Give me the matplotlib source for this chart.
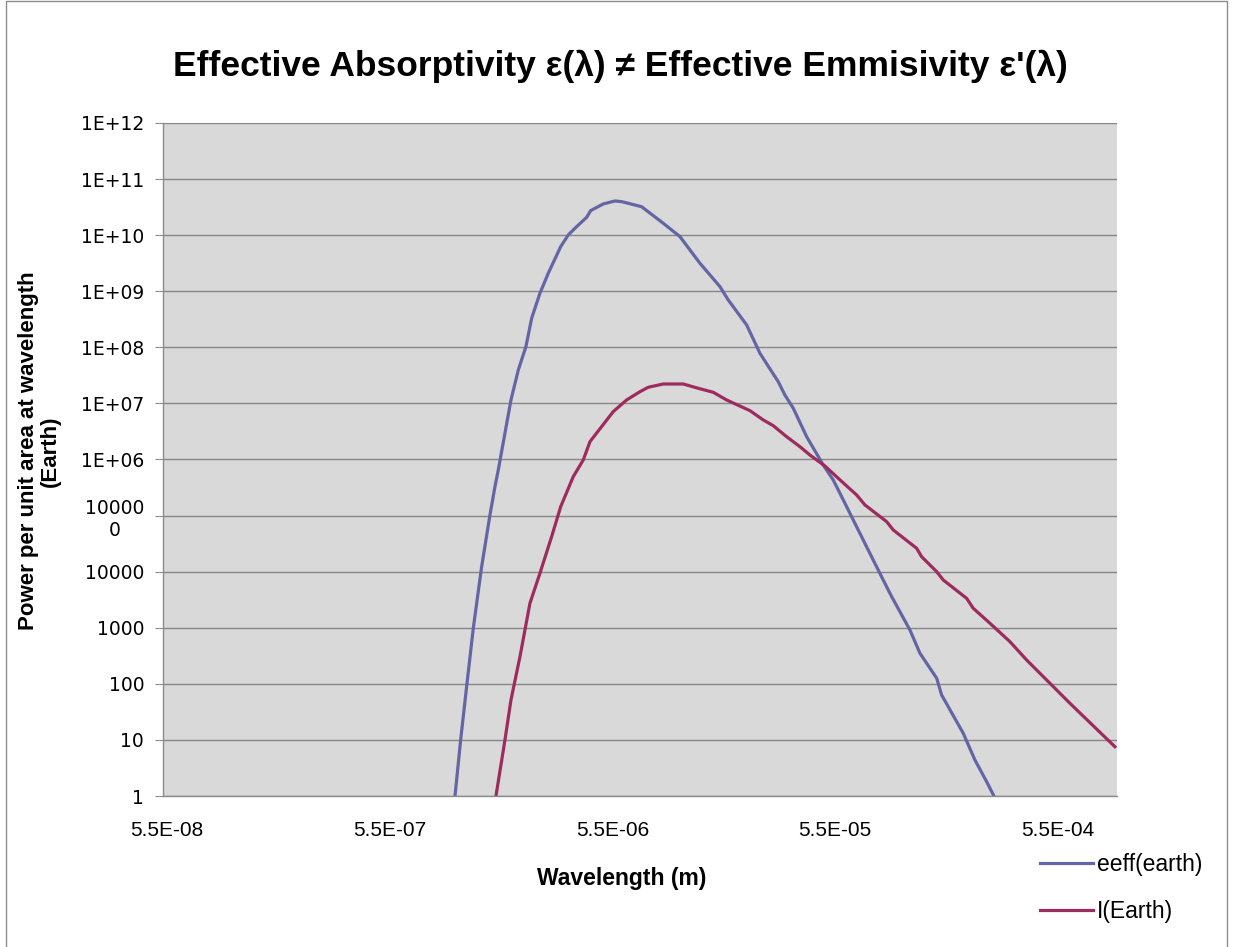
import matplotlib
matplotlib.use("Agg")
import matplotlib.pyplot as plt
from matplotlib.patches import Rectangle
from matplotlib.ticker import FixedLocator, FixedFormatter, NullLocator

# data
wl_eeff = [1.081e-6, 1.146e-6, 1.219e-6, 1.306e-6, 1.424e-6, 1.552e-6, 1.634e-6,
           1.691e-6, 1.928e-6, 2.080e-6, 2.251e-6, 2.388e-6, 2.601e-6, 2.835e-6,
           3.224e-6, 3.486e-6, 3.803e-6, 4.217e-6, 4.395e-6, 5.005e-6, 5.65e-6,
           6.06e-6, 7.44e-6, 9.31e-6, 1.107e-5, 1.361e-5, 1.673e-5, 1.823e-5,
           2.206e-5, 2.531e-5, 3.057e-5, 3.276e-5, 3.571e-5, 4.101e-5, 4.868e-5,
           5.398e-5, 5.786e-5, 6.64e-5, 7.36e-5, 9.05e-5, 9.88e-5, 1.193e-4,
           1.323e-4, 1.573e-4, 1.656e-4, 2.071e-4, 2.336e-4, 2.637e-4, 2.843e-4]
eeff_earth = [1.0, 10, 89, 978, 1.23e4, 1.03e5, 3.28e5,
              6.5e5, 1.15e7, 3.95e7, 1.03e8, 3.3e8, 9.2e8, 2.09e9,
              6.24e9, 1.01e10, 1.42e10, 2.08e10, 2.74e10, 3.6e10, 4.07e10,
              3.96e10, 3.22e10, 1.63e10, 9.4e9, 3.15e9, 1.21e9, 7.0e8,
              2.5e8, 7.8e7, 2.44e7, 1.41e7, 8.2e6, 2.55e6, 7.98e5,
              4.31e5, 2.5e5, 8.35e4, 3.67e4, 7110, 3580, 912,
              351, 126, 63.2, 13.1, 4.39, 1.80, 1.0]

wl_i = [1.651e-6, 1.812e-6, 1.928e-6, 2.116e-6, 2.346e-6, 2.601e-6, 2.936e-6,
        3.224e-6, 3.671e-6, 4.071e-6, 4.364e-6, 5.55e-6, 6.37e-6, 7.32e-6,
        7.97e-6, 9.31e-6, 1.145e-5, 1.337e-5, 1.561e-5, 1.794e-5, 2.282e-5,
        2.618e-5, 2.903e-5, 3.334e-5, 3.827e-5, 4.244e-5, 4.954e-5, 5.685e-5,
        6.876e-5, 7.49e-5, 9.38e-5, 1.004e-4, 1.279e-4, 1.346e-4, 1.573e-4,
        1.683e-4, 2.144e-4, 2.296e-4, 2.729e-4, 3.356e-4, 3.988e-4, 6.24e-4,
        9.93e-4]
i_earth = [1.0, 10, 51.5, 305, 2730, 9350, 4.21e4,
           1.44e5, 4.94e5, 9.8e5, 2.08e6, 7.13e6, 1.15e7, 1.62e7,
           1.94e7, 2.22e7, 2.22e7, 1.86e7, 1.58e7, 1.15e7, 7.43e6,
           5.07e6, 4.01e6, 2.55e6, 1.69e6, 1.20e6, 7.66e5, 4.62e5,
           2.33e5, 1.55e5, 7.78e4, 5.54e4, 2.61e4, 1.85e4, 1.0e4,
           7110, 3350, 2223, 1201, 564, 266, 45,
           7.57]

x_ticks = [5.5e-8, 5.5e-7, 5.5e-6, 5.5e-5, 5.5e-4]
x_labels = ["5.5E-08", "5.5E-07", "5.5E-06", "5.5E-05", "5.5E-04"]
y_ticks = [1, 10, 100, 1e3, 1e4, 1e5, 1e6, 1e7, 1e8, 1e9, 1e10, 1e11, 1e12]
y_labels = ["1", "10", "100", "1000", "10000", "10000\n0", "1E+06", "1E+07",
            "1E+08", "1E+09", "1E+10", "1E+11", "1E+12"]

W, H = 1233, 947
fig = plt.figure(figsize=(W / 100, H / 100), dpi=100)
fig.patch.set_facecolor("white")
fig.patches.append(Rectangle((6 / W, -0.01), 1221 / W, 1.01 - 1 / H, transform=fig.transFigure,
                             fill=False, edgecolor="#8c8c8c", linewidth=1))

ax = fig.add_axes([163 / W, 1 - 796 / H, (1117 - 163) / W, (796 - 123) / H])
ax.set_facecolor("#d9d9d9")

blue = "#6365a5"
red = "#9e2b5e"
ax.plot(wl_eeff, eeff_earth, color=blue, lw=2.3, label="eeff(earth)")
ax.plot(wl_i, i_earth, color=red, lw=2.3, label="I(Earth)")

ax.set_xscale("log")
ax.set_yscale("log")
ax.set_xlim(5.28e-8, 1.015e-3)
ax.set_ylim(1, 1e12)

ax.xaxis.set_major_locator(FixedLocator(x_ticks))
ax.xaxis.set_major_formatter(FixedFormatter(x_labels))
ax.xaxis.set_minor_locator(NullLocator())
ax.yaxis.set_major_locator(FixedLocator(y_ticks))
ax.yaxis.set_major_formatter(FixedFormatter(y_labels))
ax.yaxis.set_minor_locator(NullLocator())

ax.grid(axis="y", color="#878787", lw=1)
ax.set_axisbelow(True)
for s in ["top", "right"]:
    ax.spines[s].set_visible(False)
for s in ["left", "bottom"]:
    ax.spines[s].set_color("#8c8c8c")
    ax.spines[s].set_linewidth(1)

ax.tick_params(axis="y", direction="out", length=5.5, width=0.8, color="#8c8c8c",
               pad=8, labelsize=13.5)
ax.tick_params(axis="x", length=0, pad=18, labelsize=15)
for lab in ax.get_yticklabels():
    lab.set_fontfamily("DejaVu Sans")
    lab.set_multialignment("center")
for lab in ax.get_xticklabels():
    lab.set_fontfamily(["Liberation Sans Narrow", "Liberation Sans"])

narrow = ["Liberation Sans Narrow", "Liberation Sans", "DejaVu Sans"]
fig.text(620 / W, 1 - 66 / H, "Effective Absorptivity ε(λ) ≠ Effective Emmisivity ε'(λ)",
         ha="center", va="center", fontsize=25.5, fontweight="bold", family=narrow)
fig.text(39 / W, 1 - 451 / H, "Power per unit area at wavelength\n(Earth)", rotation=90,
         ha="center", va="center", fontsize=16, fontweight="bold", family=narrow,
         linespacing=1.05)
fig.text(622 / W, 1 - 878 / H, "Wavelength (m)", ha="center", va="center",
         fontsize=16.5, fontweight="bold", family=narrow)

fig.legend(loc="upper left", bbox_to_anchor=(1040 / W, 1 - 853 / H), frameon=False,
           prop={"family": narrow, "size": 16.5}, handlelength=2.3, handletextpad=0.18,
           labelspacing=1.05, borderpad=0, borderaxespad=0)

fig.savefig("out.png", dpi=100)
